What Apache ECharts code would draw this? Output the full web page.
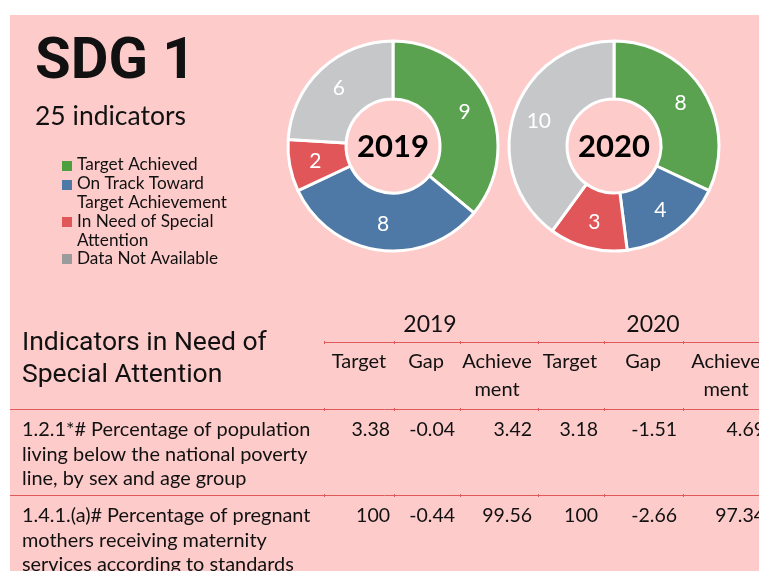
<!DOCTYPE html>
<html>
<head>
<meta charset="utf-8">
<title>SDG 1</title>
<script src="https://cdn.jsdelivr.net/npm/echarts@6/dist/echarts.min.js"></script>
<style>
  html, body { margin: 0; padding: 0; background: #ffffff; }
  #chart { width: 759px; height: 571px; }
</style>
</head>
<body>
<div id="chart"></div>
<script>
// ---- data ----
const statusNames = ['Target Achieved', 'On Track Toward Target Achievement', 'In Need of Special Attention', 'Data Not Available'];
const legendLines = [['Target Achieved'], ['On Track Toward', 'Target Achievement'], ['In Need of Special', 'Attention'], ['Data Not Available']];
const sliceColors = ['#5aa250', '#4e79a7', '#e15759', '#c6c7c9'];
const legendColors = ['#4ca040', '#4e79a7', '#e15759', '#9b9b9b'];
const years = ['2019', '2020'];
const counts2019 = [9, 8, 2, 6];
const counts2020 = [8, 4, 3, 10];
const columnHeads = [['Target'], ['Gap'], ['Achieve', 'ment'], ['Target'], ['Gap'], ['Achieve', 'ment']];
const indicatorLines = [
  ['1.2.1*# Percentage of population', 'living below the national poverty', 'line, by sex and age group'],
  ['1.4.1.(a)# Percentage of pregnant', 'mothers receiving maternity', 'services according to standards']
];
const row1Values = ['3.38', '-0.04', '3.42', '3.18', '-1.51', '4.69'];
const row2Values = ['100', '-0.44', '99.56', '100', '-2.66', '97.34'];

// ---- layout ----
const BODY = 'Lato, "Open Sans", sans-serif';
const HEAD = 'Roboto, "Noto Sans", sans-serif';
const INK = '#111111';
const RULE = '#e05a5a';
const colCenters = [359, 426, 497, 570, 643, 726];
const colRights = [390, 455, 532, 598, 677, 765];
const colTicks = [324, 394, 460, 538, 604, 683];
const donutCenters = [[393, 146], [614, 146]];

function txt(text, x, baseline, size, opts) {
  opts = opts || {};
  return {
    type: 'text',
    silent: true,
    style: {
      text: text,
      x: x,
      y: baseline - size * 0.3,
      fill: opts.fill || INK,
      font: (opts.weight || 'normal') + ' ' + size + 'px ' + (opts.family || BODY),
      textAlign: opts.align || 'left',
      textVerticalAlign: 'middle'
    }
  };
}
function hline(x1, x2, y) {
  return { type: 'line', silent: true, shape: { x1: x1, y1: y, x2: x2, y2: y }, style: { stroke: RULE, lineWidth: 1 } };
}

const graphics = [];
// page panel
graphics.push({ type: 'rect', silent: true, z: -10, shape: { x: 10, y: 15, width: 749, height: 556 }, style: { fill: '#fecbcb' } });
// heading block
graphics.push(txt('SDG 1', 35, 81, 58, { weight: 'bold', family: HEAD }));
graphics.push(txt('25 indicators', 35, 124, 26.5));

// legend
const legendSquareY = [161, 180, 217, 254];
let base = 170;
legendLines.forEach((lines, i) => {
  graphics.push({ type: 'rect', silent: true, shape: { x: 62, y: legendSquareY[i], width: 10, height: 10 }, style: { fill: legendColors[i] } });
  lines.forEach(l => { graphics.push(txt(l, 77, base, 17.2)); base += 18.8; });
});

// donut captions
years.forEach((y, i) => {
  graphics.push({
    type: 'text', silent: true, z: 10,
    style: {
      text: y, x: donutCenters[i][0], y: donutCenters[i][1] + 1,
      fill: '#000', font: 'bold 31px ' + BODY, textAlign: 'center', textVerticalAlign: 'middle'
    }
  });
});

// table heading
graphics.push(txt('Indicators in Need of', 22, 351, 26.5, { family: HEAD }));
graphics.push(txt('Special Attention', 22, 383, 26.5, { family: HEAD }));
graphics.push(txt(years[0], 430, 331, 23, { align: 'center' }));
graphics.push(txt(years[1], 653, 331, 23, { align: 'center' }));
columnHeads.forEach((lines, i) => {
  lines.forEach((l, j) => graphics.push(txt(l, colCenters[i], 368 + j * 28, 20, { align: 'center' })));
});

// rules and column ticks
graphics.push(hline(324, 759, 342.5));
graphics.push(hline(10, 759, 409.5));
graphics.push(hline(10, 759, 495.5));
[342, 409, 495].forEach(y => colTicks.forEach(x => {
  graphics.push({ type: 'rect', silent: true, shape: { x: x, y: y - 1, width: 1, height: 3 }, style: { fill: RULE } });
}));

// table rows
const rowBases = [436, 522];
[row1Values, row2Values].forEach((vals, r) => {
  indicatorLines[r].forEach((l, j) => graphics.push(txt(l, 22, rowBases[r] + j * 24.5, 19.9)));
  vals.forEach((v, c) => graphics.push(txt(v, colRights[c], rowBases[r], 19.5, { align: 'right' })));
});

function donut(center, counts) {
  return {
    type: 'pie',
    center: center,
    radius: [47, 105],
    startAngle: 90,
    clockwise: true,
    silent: true,
    avoidLabelOverlap: false,
    itemStyle: { borderColor: '#ffffff', borderWidth: 3 },
    label: {
      show: true,
      position: 'inside',
      formatter: '{c}',
      color: '#ffffff',
      fontFamily: BODY,
      fontSize: 21
    },
    labelLine: { show: false },
    emphasis: { disabled: true },
    data: statusNames.map((n, i) => ({ name: n, value: counts[i], itemStyle: { color: sliceColors[i] } }))
  };
}

const chart = echarts.init(document.getElementById('chart'), null, { renderer: 'canvas' });
chart.setOption({
  animation: false,
  backgroundColor: '#ffffff',
  series: [donut(donutCenters[0], counts2019), donut(donutCenters[1], counts2020)],
  graphic: { elements: graphics }
});
</script>
</body>
</html>
